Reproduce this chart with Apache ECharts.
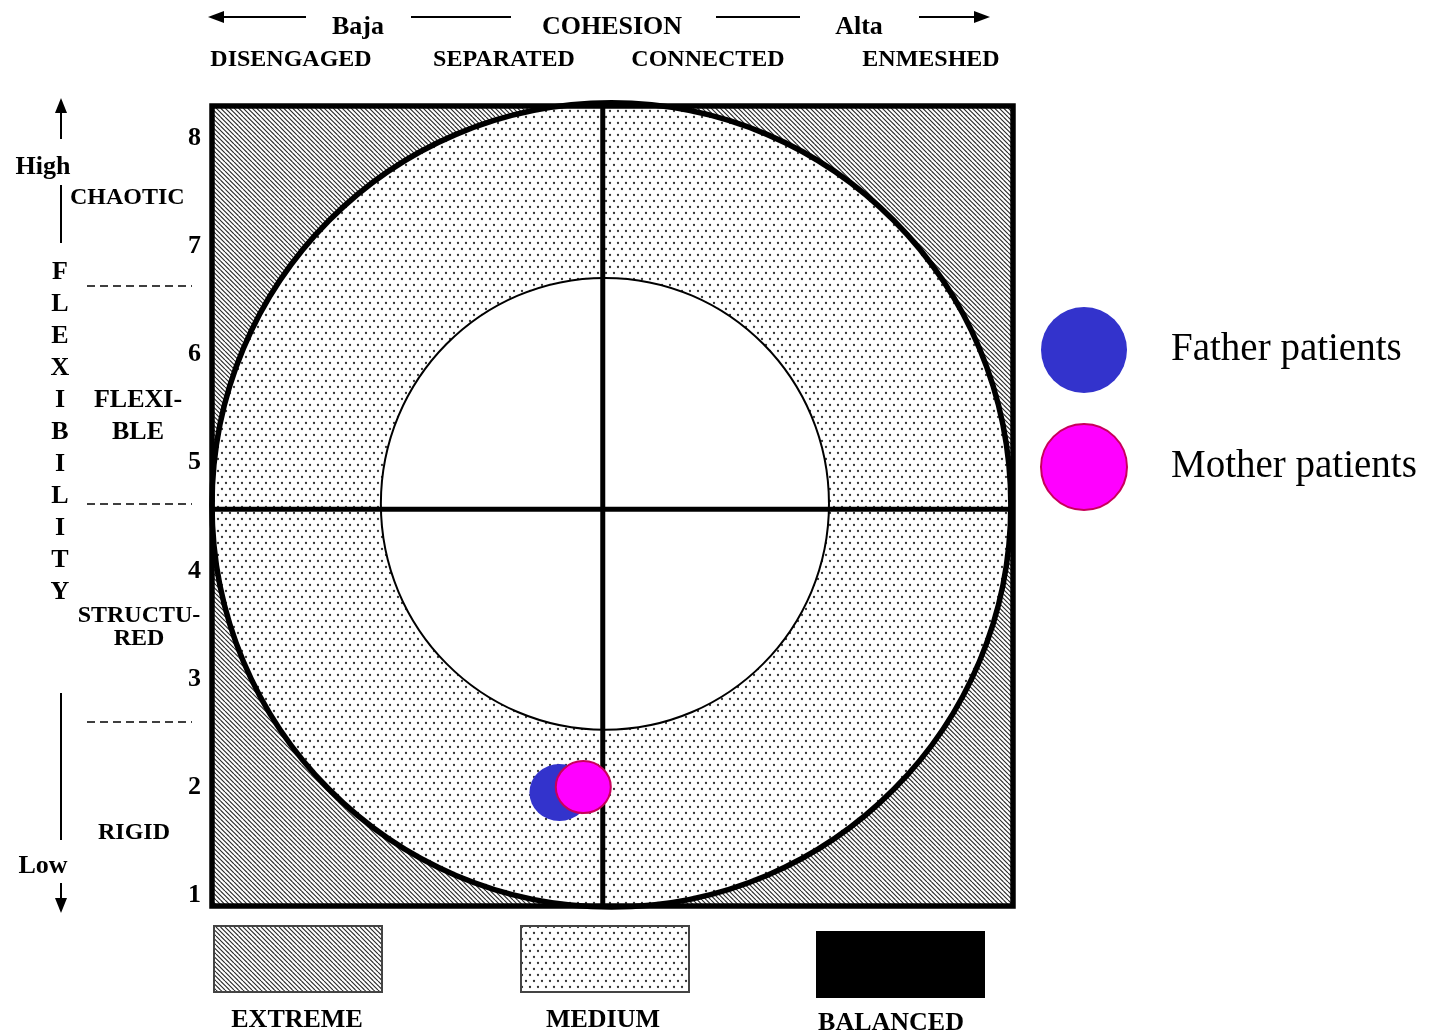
<!DOCTYPE html>
<html><head><meta charset="utf-8">
<script src="https://cdn.jsdelivr.net/npm/echarts@6/dist/echarts.min.js"></script>
<style>html,body{margin:0;padding:0;background:#fff}#c{width:1430px;height:1036px}</style>
</head><body><div id="c"></div>
<script>
// ---- data ----
const seriesNames = ['Father patients', 'Mother patients'];
const fatherPoints = [[4.11, 1.95]];
const motherPoints = [[4.33, 2.00]];
const yTicks = [1, 2, 3, 4, 5, 6, 7, 8];
const axisRange = [0.9, 8.3];
const outerRing = [4.59, 4.61, 3.69, 3.72];   // cx, cy, rx, ry (data units)
const innerRing = [4.53, 4.62, 2.07, 2.09];
const crossPoint = [4.51, 4.57];
const cohesionTitle = ['Baja', 'COHESION', 'Alta'];
const cohesionLevels = ['DISENGAGED', 'SEPARATED', 'CONNECTED', 'ENMESHED'];
const flexLetters = 'FLEXIBILITY'.split('');
const flexLevels = ['CHAOTIC', 'FLEXI-', 'BLE', 'STRUCTU-', 'RED', 'RIGID'];
const flexEnds = ['High', 'Low'];
const regionLabels = ['EXTREME', 'MEDIUM', 'BALANCED'];

// ---- patterns ----
function hatchPattern() {
  const p = 9, c = document.createElement('canvas'); c.width = c.height = p;
  const g = c.getContext('2d'); g.fillStyle = '#fff'; g.fillRect(0, 0, p, p);
  g.strokeStyle = '#2a2a2a'; g.lineWidth = 1.15; g.beginPath();
  for (let k = -2; k <= 2; k++) { g.moveTo(k * 4.5, 0); g.lineTo(k * 4.5 + p, p); }
  g.stroke(); return c;
}
function dotPattern() {
  const c = document.createElement('canvas'); c.width = 8; c.height = 12;
  const g = c.getContext('2d'); g.fillStyle = '#fff'; g.fillRect(0, 0, 8, 12);
  g.fillStyle = '#333';
  [[2, 3], [6, 9]].forEach(d => { g.beginPath(); g.arc(d[0], d[1], 1.15, 0, Math.PI * 2); g.fill(); });
  return c;
}
const HATCH = { image: hatchPattern(), repeat: 'repeat' };
const DOTS = { image: dotPattern(), repeat: 'repeat' };

const FONT = 'Liberation Serif, Times New Roman, serif';
function txt(text, x, y, size, opts) {
  opts = opts || {};
  return { type: 'text', x: x, y: y, z: 10, style: {
    text: text, fontFamily: FONT, fontSize: size, fontWeight: opts.weight || 'bold', fill: '#000',
    align: opts.align || 'center', verticalAlign: 'middle', textAlign: opts.align || 'center', textVerticalAlign: 'middle'
  } };
}
function line(x1, y1, x2, y2, w, dash) {
  return { type: 'line', z: 10, shape: { x1, y1, x2, y2 }, style: { stroke: '#000', lineWidth: w || 2, lineDash: dash || null } };
}
function tri(points) { return { type: 'polygon', z: 10, shape: { points }, style: { fill: '#000' } }; }

const graphics = [];
// top header
graphics.push(line(222, 17, 306, 17, 2), tri([[208, 17], [224, 11], [224, 23]]));
graphics.push(line(411, 17, 511, 17, 2), line(716, 17, 800, 17, 2));
graphics.push(line(919, 17, 976, 17, 2), tri([[990, 17], [974, 11], [974, 23]]));
graphics.push(txt(cohesionTitle[0], 358, 27, 26), txt(cohesionTitle[1], 612, 27, 26), txt(cohesionTitle[2], 859, 27, 26));
[291, 504, 708, 931].forEach((x, i) => graphics.push(txt(cohesionLevels[i], x, 60, 24)));
// left side
graphics.push(tri([[61, 98], [55, 113], [67, 113]]), line(61, 111, 61, 139, 2));
graphics.push(txt(flexEnds[0], 43, 167, 26));
graphics.push(line(61, 185, 61, 243, 2));
graphics.push(txt(flexLevels[0], 70, 198, 24, { align: 'left' }));
flexLetters.forEach((ch, i) => graphics.push(txt(ch, 60, 272 + 32 * i, 26)));
[286, 504, 722].forEach(y => graphics.push(line(87, y, 192, y, 1.5, [8, 5])));
graphics.push(txt(flexLevels[1], 138, 400, 26), txt(flexLevels[2], 138, 432, 26));
graphics.push(txt(flexLevels[3], 139, 616, 24), txt(flexLevels[4], 139, 639, 24));
graphics.push(line(61, 693, 61, 840, 2));
graphics.push(txt(flexLevels[5], 134, 833, 24));
graphics.push(txt(flexEnds[1], 43, 866, 26));
graphics.push(line(61, 883, 61, 900, 2), tri([[61, 913], [55, 898], [67, 898]]));
// bottom region legend
graphics.push({ type: 'rect', z: 10, shape: { x: 214, y: 926, width: 168, height: 66 }, style: { fill: HATCH, stroke: '#444', lineWidth: 2 } });
graphics.push({ type: 'rect', z: 10, shape: { x: 521, y: 926, width: 168, height: 66 }, style: { fill: DOTS, stroke: '#444', lineWidth: 2 } });
graphics.push({ type: 'rect', z: 10, shape: { x: 816, y: 931, width: 169, height: 67 }, style: { fill: '#000' } });
graphics.push(txt(regionLabels[0], 297, 1020, 26), txt(regionLabels[1], 603, 1020, 26), txt(regionLabels[2], 891, 1023, 26));

const ELLIPSE = 'path://M0,50A50,50,0,1,1,100,50A50,50,0,1,1,0,50Z';

const chart = echarts.init(document.getElementById('c'), null, { renderer: 'canvas' });
chart.setOption({
  backgroundColor: '#fff',
  animation: false,
  grid: { left: 212, top: 106, width: 801, height: 800 },
  xAxis: { type: 'value', min: axisRange[0], max: axisRange[1], show: false },
  yAxis: {
    type: 'value', min: axisRange[0], max: axisRange[1],
    axisLine: { show: false }, axisTick: { show: false }, splitLine: { show: false },
    axisLabel: { customValues: yTicks, margin: 11, fontFamily: FONT, fontWeight: 'bold', fontSize: 26, color: '#000' }
  },
  legend: {
    orient: 'vertical', left: 1035, top: 302, itemWidth: 92, itemHeight: 86, itemGap: 30,
    selectedMode: false, data: seriesNames,
    textStyle: { fontFamily: FONT, fontSize: 39, color: '#000', padding: [0, 0, 0, 36] }
  },
  graphic: { elements: graphics },
  series: [
    {
      type: 'custom', coordinateSystem: 'cartesian2d', clip: false, silent: true, z: 1,
      data: [crossPoint],
      renderItem: function (params, api) {
        const tl = api.coord([axisRange[0], axisRange[1]]);
        const br = api.coord([axisRange[1], axisRange[0]]);
        const oc = api.coord([outerRing[0], outerRing[1]]);
        const os = api.size([outerRing[2], outerRing[3]]);
        const ic = api.coord([innerRing[0], innerRing[1]]);
        const is = api.size([innerRing[2], innerRing[3]]);
        const cp = api.coord([api.value(0), api.value(1)]);
        return {
          type: 'group', children: [
            { type: 'rect', shape: { x: tl[0], y: tl[1], width: br[0] - tl[0], height: br[1] - tl[1] }, style: { fill: HATCH } },
            { type: 'ellipse', shape: { cx: oc[0], cy: oc[1], rx: os[0], ry: os[1] }, style: { fill: DOTS, stroke: '#000', lineWidth: 5.5 } },
            { type: 'ellipse', shape: { cx: ic[0], cy: ic[1], rx: is[0], ry: is[1] }, style: { fill: '#fff', stroke: '#000', lineWidth: 2 } },
            { type: 'line', shape: { x1: tl[0], y1: cp[1], x2: br[0], y2: cp[1] }, style: { stroke: '#000', lineWidth: 5 } },
            { type: 'line', shape: { x1: cp[0], y1: tl[1], x2: cp[0], y2: br[1] }, style: { stroke: '#000', lineWidth: 5 } },
            { type: 'rect', shape: { x: tl[0], y: tl[1], width: br[0] - tl[0], height: br[1] - tl[1] }, style: { fill: 'none', stroke: '#000', lineWidth: 5.5 } }
          ]
        };
      }
    },
    {
      name: seriesNames[0], type: 'scatter', z: 3, symbol: ELLIPSE, symbolSize: [60, 57],
      itemStyle: { color: '#3333cc', opacity: 1 }, data: fatherPoints
    },
    {
      name: seriesNames[1], type: 'scatter', z: 4, symbol: ELLIPSE, symbolSize: [55, 52],
      itemStyle: { color: '#ff00ff', borderColor: '#c8005a', borderWidth: 2, opacity: 1 }, data: motherPoints
    }
  ]
});
</script></body></html>
